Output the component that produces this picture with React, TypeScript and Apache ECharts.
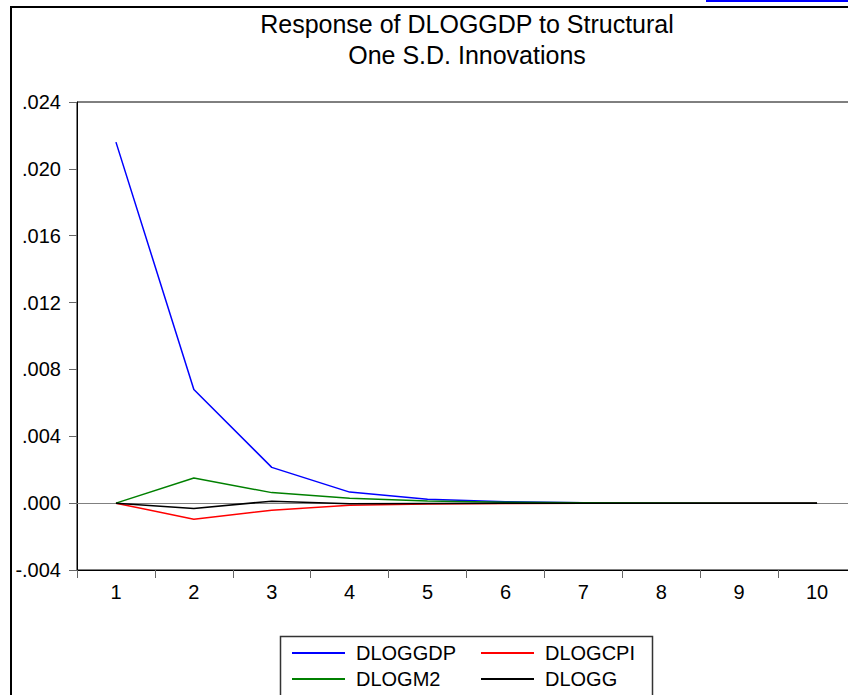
import React, { useEffect, useRef } from "react";
import * as echarts from "echarts";

const periods = ["1", "2", "3", "4", "5", "6", "7", "8", "9", "10"];
const dloggdp = [0.0216, 0.0068, 0.00214, 0.00066, 0.00024, 0.00008, 0.00003, 0.00001, 0.000005, 0.000002];
const dlogcpi = [0, -0.00096, -0.00042, -0.00013, -0.00005, -0.00002, -0.00001, 0, 0, 0];
const dlogm2 = [0, 0.0015, 0.00063, 0.0003, 0.00013, 0.00005, 0.00002, 0.00001, 0, 0];
const dlogg = [0, -0.00032, 0.00012, -0.00003, -0.00002, -0.00001, 0, 0, 0, 0];
const titleText = "Response of DLOGGDP to Structural\nOne S.D. Innovations";

const FONT = "'Liberation Sans', Arial, sans-serif";

export default function App() {
  const ref = useRef<HTMLDivElement>(null);
  useEffect(() => {
    if (!ref.current) return;
    const chart = echarts.init(ref.current, undefined, { renderer: "svg" });
    const mk = (name: string, data: number[], color: string, extra: any = {}) => ({
      name,
      type: "line",
      data,
      symbol: "none",
      showSymbol: false,
      lineStyle: { color, width: 1.5 },
      itemStyle: { color },
      z: 3,
      ...extra,
    });
    chart.setOption({
      animation: false,
      backgroundColor: "#fff",
      textStyle: { fontFamily: FONT },
      title: {
        text: titleText,
        left: 467,
        top: 8,
        textAlign: "center",
        padding: 0,
        textStyle: { fontFamily: FONT, fontSize: 25, fontWeight: "normal", color: "#000", lineHeight: 31 },
      },
      grid: { left: 77, top: 102, width: 779, height: 468, show: true, borderColor: "#000", borderWidth: 1, backgroundColor: "transparent" },
      xAxis: {
        type: "category",
        data: periods,
        boundaryGap: true,
        axisLine: { onZero: false, lineStyle: { color: "#000", width: 1 } },
        axisTick: { show: true, length: 8, interval: 0, lineStyle: { color: "#666" } },
        axisLabel: { fontFamily: FONT, fontSize: 20, color: "#000", margin: 12, interval: 0 },
        splitLine: { show: false },
      },
      yAxis: {
        type: "value",
        min: -0.004,
        max: 0.024,
        interval: 0.004,
        axisLine: { show: true, lineStyle: { color: "#000", width: 1 } },
        axisTick: { show: true, length: 8, lineStyle: { color: "#666" } },
        axisLabel: {
          fontFamily: FONT,
          fontSize: 20,
          color: "#000",
          margin: 16,
          formatter: (v: number) => {
            const s = Math.abs(v).toFixed(3).replace(/^0/, "");
            return v < -1e-9 ? "-" + s : s;
          },
        },
        splitLine: { show: false },
      },
      legend: [
        {
          data: ["DLOGGDP", "DLOGM2"],
          orient: "vertical",
          left: 287,
          top: 638,
          icon: "rect",
          itemWidth: 53,
          itemHeight: 2,
          itemGap: 6,
          textStyle: { fontFamily: FONT, fontSize: 20, color: "#000", padding: [0, 0, 0, 6] },
        },
        {
          data: ["DLOGCPI", "DLOGG"],
          orient: "vertical",
          left: 476,
          top: 638,
          icon: "rect",
          itemWidth: 53,
          itemHeight: 2,
          itemGap: 6,
          textStyle: { fontFamily: FONT, fontSize: 20, color: "#000", padding: [0, 0, 0, 6] },
        },
      ],
      series: [
        mk("DLOGGDP", dloggdp, "#0000FF", {
          markLine: {
            silent: true,
            symbol: "none",
            label: { show: false },
            lineStyle: { color: "#808080", width: 1, type: "solid" },
            data: [{ yAxis: 0 }],
            z: 1,
          },
        }),
        mk("DLOGCPI", dlogcpi, "#FF0000"),
        mk("DLOGM2", dlogm2, "#008000"),
        mk("DLOGG", dlogg, "#000000"),
      ],
      graphic: [
        { type: "line", shape: { x1: 11, y1: 7, x2: 11, y2: 695 }, style: { stroke: "#000", lineWidth: 2 }, z: 10 },
        { type: "line", shape: { x1: 10, y1: 7, x2: 870, y2: 7 }, style: { stroke: "#000", lineWidth: 2 }, z: 10 },
        { type: "rect", shape: { x: 706, y: 0, width: 160, height: 2 }, style: { fill: "#0000FF" }, z: 10 },
        { type: "rect", shape: { x: 280.5, y: 636.5, width: 372, height: 70 }, style: { fill: "none", stroke: "#333", lineWidth: 1.5 }, z: 10 },
      ],
    });
    return () => chart.dispose();
  }, []);
  return (
    <div style={{ position: "absolute", left: 0, top: 0, width: 848, height: 695, overflow: "hidden" }}>
      <div ref={ref} style={{ width: 880, height: 695 }} />
    </div>
  );
}
